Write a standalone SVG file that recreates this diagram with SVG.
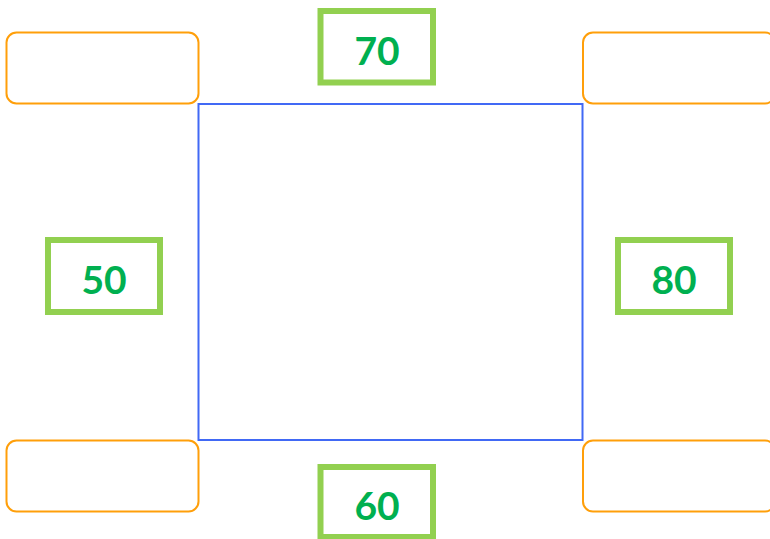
<svg xmlns="http://www.w3.org/2000/svg" width="770" height="539" viewBox="0 0 770 539">
<style>
.slot{fill:none;stroke:#ff9f0a;stroke-width:2}
.num{fill:#fff;stroke:#92d050;stroke-width:6}
.lbl{font-family:Lato,"Liberation Sans",sans-serif;font-weight:bold;font-size:39px;fill:#00b050;text-anchor:middle}
</style>
<rect width="770" height="539" fill="#fff"/>
<g id="center"><rect x="198.5" y="104" width="384" height="336" fill="none" stroke="#4169f5" stroke-width="2"/></g>
<g id="slot-tl"><rect class="slot" x="6.5" y="32.5" width="192" height="71" rx="10"/></g>
<g id="slot-tr"><rect class="slot" x="583" y="32.5" width="192" height="71" rx="10"/></g>
<g id="slot-bl"><rect class="slot" x="6.5" y="440.5" width="192" height="71" rx="10"/></g>
<g id="slot-br"><rect class="slot" x="583" y="440.5" width="192" height="71" rx="10"/></g>
<g id="n70"><rect class="num" x="320.5" y="11" width="112.5" height="71.5"/><text class="lbl" x="377" y="65">70</text></g>
<g id="n50"><rect class="num" x="48" y="240" width="112" height="72"/><text class="lbl" x="104" y="293.5">50</text></g>
<g id="n80"><rect class="num" x="618" y="240" width="112" height="72"/><text class="lbl" x="674" y="293.5">80</text></g>
<g id="n60"><rect class="num" x="320.5" y="467" width="112.5" height="70"/><text class="lbl" x="377" y="520">60</text></g>
<g id="connectors"></g>
</svg>
